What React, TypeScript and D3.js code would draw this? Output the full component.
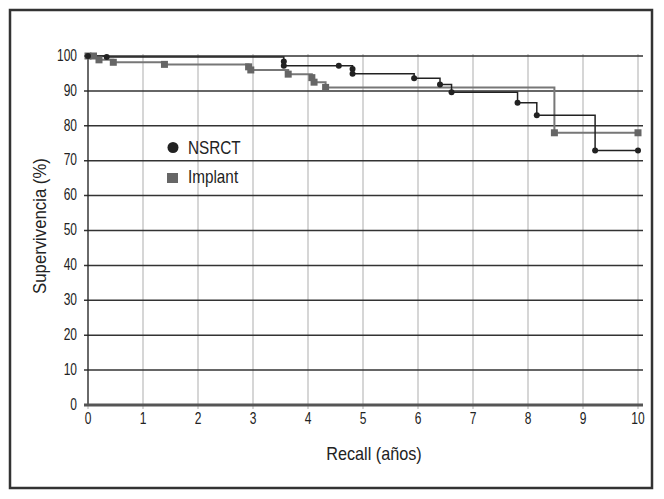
import React from 'react';
import * as d3 from 'd3';

// Kaplan-Meier steps: [years, survival %]
const nsrctYears = [0, 0.34, 3.56, 3.56, 4.56, 4.81, 4.81, 5.93, 6.4, 6.61, 7.81, 8.16, 9.22, 10];
const nsrctSurv = [100, 99.7, 98.4, 97.2, 97.2, 96.3, 94.9, 93.6, 91.8, 89.6, 86.6, 83.0, 72.9, 72.9];

const implantYears = [0, 0.1, 0.2, 0.46, 1.39, 2.92, 2.96, 3.64, 4.07, 4.11, 4.32, 8.48, 10];
const implantSurv = [100, 100, 98.9, 98.2, 97.6, 96.9, 96.0, 94.8, 93.8, 92.5, 91.0, 78.0, 78.0];

const xTicks = d3.range(0, 11);
const yTicks = d3.range(0, 101, 10);

const W = 664;
const H = 499;
const plot = { left: 88, right: 638, top: 56, bottom: 405 };
const font = '"Liberation Sans", Arial, sans-serif';

// condensed text: squeeze horizontally around the anchor point
const Txt = ({ x, y, sx = 0.8, rot = 0, size, anchor = 'start', dy = '0', children }: any) => (
  <text
    transform={`translate(${x},${y}) rotate(${rot}) scale(${sx},1)`}
    textAnchor={anchor}
    dy={dy}
    fontSize={size}
    fill="#222"
  >
    {children}
  </text>
);

const App = () => {
  const x = d3.scaleLinear().domain([0, 10]).range([plot.left, plot.right]);
  const y = d3.scaleLinear().domain([0, 100]).range([plot.bottom, plot.top]);

  const line = d3.line<[number, number]>()
    .x((d) => x(d[0]))
    .y((d) => y(d[1]))
    .curve(d3.curveStepAfter);

  const nsrct: [number, number][] = nsrctYears.map((t, i) => [t, nsrctSurv[i]]);
  const implant: [number, number][] = implantYears.map((t, i) => [t, implantSurv[i]]);

  return (
    <svg width={W} height={H} style={{ position: 'absolute', left: 0, top: 0, fontFamily: font }}>
      <rect x={0} y={0} width={W} height={H} fill="#fff" />
      <rect x={10} y={10} width={642} height={478} fill="none" stroke="#333" strokeWidth={2.5} />

      {/* vertical light grid */}
      {xTicks.map((t) => (
        <line key={'vx' + t} x1={x(t)} x2={x(t)} y1={plot.top - 2} y2={plot.bottom + 4} stroke="#c8c8c8" strokeWidth={1.5} />
      ))}
      {/* horizontal grid */}
      {yTicks.filter((t) => t > 0).map((t) => (
        <line key={'hy' + t} x1={plot.left - 4} x2={plot.right + 5} y1={y(t)} y2={y(t)} stroke="#333" strokeWidth={1.5} />
      ))}
      {/* axes */}
      <line x1={plot.left} x2={plot.left} y1={plot.top - 3} y2={plot.bottom} stroke="#222" strokeWidth={1.2} />
      <line x1={plot.left - 4} x2={plot.right + 5} y1={plot.bottom} y2={plot.bottom} stroke="#555" strokeWidth={3} />

      {/* tick labels */}
      {yTicks.map((t) => (
        <Txt key={'yl' + t} x={plot.left - 11} y={y(t) - 1} dy="0.36em" anchor="end" size={16} sx={0.75}>
          {t}
        </Txt>
      ))}
      {xTicks.map((t) => (
        <Txt key={'xl' + t} x={x(t)} y={plot.bottom + 19} anchor="middle" size={16} sx={0.75}>
          {t}
        </Txt>
      ))}

      <Txt x={374} y={460} anchor="middle" size={18} sx={0.9}>Recall (años)</Txt>
      <Txt x={46} y={226} rot={-90} anchor="middle" size={18} sx={0.93}>Supervivencia (%)</Txt>

      {/* curves */}
      <path d={line(implant) || ''} fill="none" stroke="#777" strokeWidth={2} />
      <path d={line(nsrct) || ''} fill="none" stroke="#222" strokeWidth={1.5} />
      {implant.map((d, i) => (
        <rect key={'im' + i} x={x(d[0]) - 3.5} y={y(d[1]) - 3.5} width={7} height={7} fill="#666" />
      ))}
      {nsrct.map((d, i) => (
        <circle key={'ns' + i} cx={x(d[0])} cy={y(d[1])} r={3} fill="#222" />
      ))}

      {/* legend */}
      <circle cx={173} cy={147.5} r={5.5} fill="#222" />
      <Txt x={188} y={147.5} dy="0.36em" size={18} sx={0.85}>NSRCT</Txt>
      <rect x={167} y={173} width={11} height={10} fill="#666" />
      <Txt x={188} y={177} dy="0.36em" size={18} sx={0.85}>Implant</Txt>
    </svg>
  );
};

export default App;
